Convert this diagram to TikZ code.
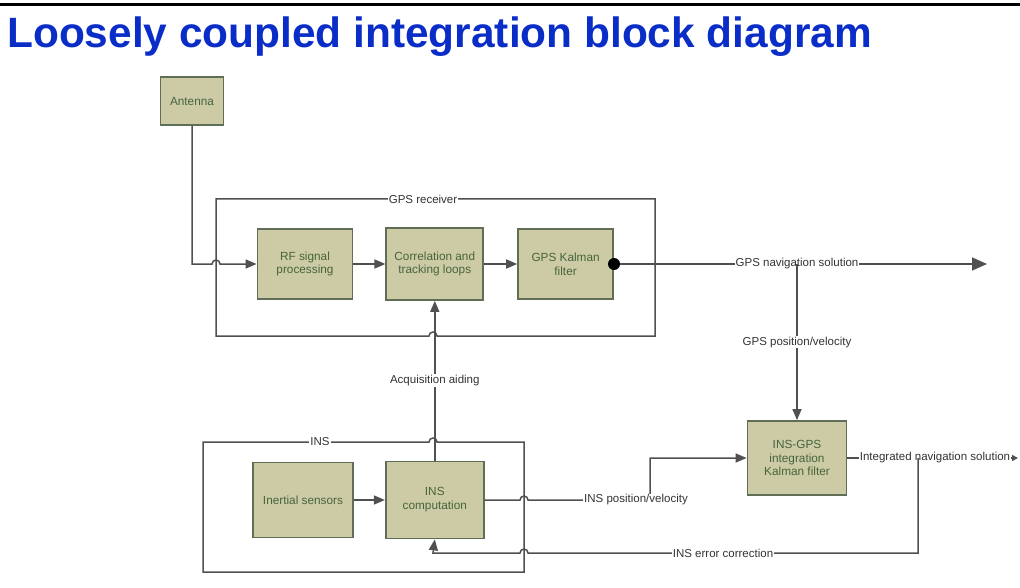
\documentclass[tikz,border=0pt]{standalone}
\usepackage{fontspec}
\setmainfont{Liberation Sans}
\usetikzlibrary{arrows.meta, positioning}
\definecolor{blockfill}{RGB}{205,203,165}
\definecolor{blockdraw}{RGB}{95,110,85}
\definecolor{blocktext}{RGB}{70,100,60}
\definecolor{linegray}{RGB}{80,80,80}
\definecolor{titleblue}{RGB}{10,45,200}
\tikzset{
    block/.style={rectangle, draw=blockdraw, fill=blockfill, text=blocktext, line width=1.8pt, align=center, inner sep=0pt, font=\fontsize{11.8}{13.8}\selectfont},
    conn/.style={draw=linegray, line width=1.5pt},
    arrow/.style={conn, -{Triangle[length=11pt, width=9pt]}},
    lbl/.style={fill=white, text=black!80, inner sep=1pt, font=\fontsize{11.5}{13.5}\selectfont}
}

\begin{document}
\begin{tikzpicture}[x=1pt, y=-1pt]
        \useasboundingbox (0,0) rectangle (1020,588);

        % Title
        \draw[line width=3pt] (0,5) -- (1020,5);
        \node (title) [anchor=west, inner sep=0pt, text=titleblue, font=\fontsize{42.4}{46}\bfseries] at (7,37) {Loosely coupled integration block diagram};

        % Nodes
        \node (antenna) [block, minimum width=63pt, minimum height=48pt] at (192,101) {Antenna};

        \node (rf) [block, minimum width=95pt, minimum height=70pt] at (305,264) {RF signal\\processing};

        \node (corr) [block, minimum width=97pt, minimum height=72pt, right=32pt of rf] {Correlation and\\tracking loops};

        \node (gpskf) [block, minimum width=95pt, minimum height=70pt, right=33pt of corr] {GPS Kalman\\filter};

        \node (inertial) [block, minimum width=100pt, minimum height=75pt] at (303,500) {Inertial sensors};

        \node (inscomp) [block, minimum width=98pt, minimum height=77pt, right=31pt of inertial] {INS\\computation};

        \node (insgps) [block, minimum width=99pt, minimum height=74pt] at (797,458) {INS-GPS\\integration\\Kalman filter};

        \coordinate (gpsout) at (987,264);
        \coordinate (intout) at (1018,458);

        % Frames
        \draw[conn] (216,199) -- (655,199) -- (655,336) -- (437,336)
            arc[start angle=0, end angle=-180, radius=4] -- (216,336) -- cycle;
        \node (gpsrx) [lbl] at (423,199) {GPS receiver};

        \draw[conn] (203,442) -- (429,442)
            arc[start angle=180, end angle=360, radius=4] -- (524,442) -- (524,572) -- (203,572) -- cycle;
        \node (ins) [lbl] at (320,442) {INS};

        % Arrows
        \draw[arrow] (antenna.south) |- (212,264)
            arc[start angle=180, end angle=360, radius=4] -- (rf.west);
        \draw[arrow] (rf) -- (corr);
        \draw[arrow] (corr) -- (gpskf);

        \draw[conn, -{Triangle[length=15pt, width=13pt]}] (gpskf.east) -- (gpsout);
        \fill (gpskf.east) circle (6);
        \node (gpsnav) [lbl] at (797,264) {GPS navigation solution};
        \draw[arrow] (797,264) -- node[lbl] (gpspv) {GPS position/velocity} (insgps.north);

        \draw[arrow] (inscomp.north) -- node[lbl] (acq) {Acquisition aiding} (corr.south);

        \draw[arrow] (inertial) -- (inscomp);

        \draw[arrow] (inscomp.east) -- (520,500)
            arc[start angle=180, end angle=360, radius=4] -- (650,500) |- (insgps.west);
        \node (inspv) [lbl] at (636,500) {INS position/velocity};

        \draw[conn, -{Triangle[length=6pt, width=6pt]}] (insgps.east) -- (intout);
        \node (intnav) [lbl] at (935,458) {Integrated navigation solution};

        \draw[arrow] (918,458) -- (918,553) -- node[lbl] (inserr) {INS error correction} (528,553)
            arc[start angle=0, end angle=-180, radius=4] -- (433,553) -- (inscomp.south);

    \end{tikzpicture}
\end{document}
